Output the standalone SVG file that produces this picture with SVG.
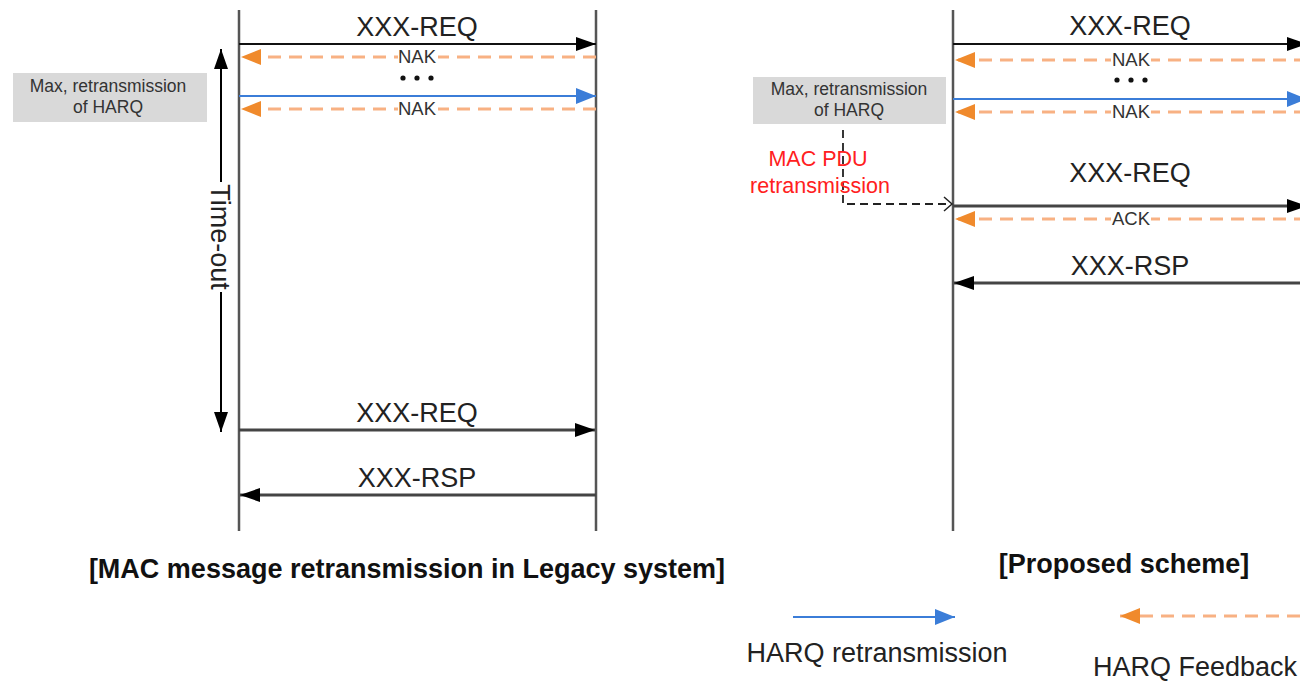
<svg xmlns="http://www.w3.org/2000/svg" width="1300" height="683" viewBox="0 0 1300 683">
<style>
text{font-family:"Liberation Sans",Arial,sans-serif;fill:#222}
.lbl{font-size:27px;text-anchor:middle}
.small{font-size:18.5px;text-anchor:middle;fill:#333}
.box{fill:#d9d9d9}
.boxt{font-size:17.5px;text-anchor:middle;fill:#333}
.cap{font-size:27px;font-weight:bold;text-anchor:middle;fill:#111}
.red{font-size:21.5px;text-anchor:middle;fill:#ff2020}
.life{stroke:#555;stroke-width:2.5;fill:none}
.msg{stroke:#111;stroke-width:2;fill:none;marker-end:url(#ah)}
.msg2{stroke:#444;stroke-width:2.8;fill:none;marker-end:url(#ah)}
.fb{stroke:#f8b183;stroke-width:3;stroke-dasharray:13 8;fill:none;marker-end:url(#ao)}
.rt{stroke:#3b7dd8;stroke-width:2;fill:none;marker-end:url(#ab)}
.lb{fill:#fff}
</style>
<defs>
<marker id="ah" markerUnits="userSpaceOnUse" markerWidth="20" markerHeight="14" refX="20" refY="7" orient="auto"><path d="M0,0 L20,7 L0,14 z" fill="#000"/></marker>
<marker id="ao" markerUnits="userSpaceOnUse" markerWidth="20" markerHeight="16" refX="20" refY="8" orient="auto"><path d="M0,0 L20,8 L0,16 z" fill="#f08a2c"/></marker>
<marker id="ab" markerUnits="userSpaceOnUse" markerWidth="20" markerHeight="16" refX="20" refY="8" orient="auto"><path d="M0,0 L20,8 L0,16 z" fill="#3b7dd8"/></marker>
<marker id="at" markerUnits="userSpaceOnUse" markerWidth="20" markerHeight="14" refX="20" refY="7" orient="auto"><path d="M0,0 L20,7 L0,14 z" fill="#000"/></marker>
</defs>

<g id="lifelines">
<line class="life" x1="239" y1="10" x2="239" y2="531"/>
<line class="life" x1="596" y1="10" x2="596" y2="531"/>
<line class="life" x1="953" y1="10" x2="953" y2="531"/>
</g>

<g id="box-left">
<rect class="box" x="13" y="73" width="194" height="49"/>
<text class="boxt" x="108" y="92">Max, retransmission</text>
<text class="boxt" x="108" y="113">of HARQ</text>
</g>

<g id="box-right">
<rect class="box" x="753" y="77" width="193" height="47"/>
<text class="boxt" x="849" y="95">Max, retransmission</text>
<text class="boxt" x="849" y="116">of HARQ</text>
</g>

<g id="timeout">
<line x1="221" y1="182" x2="221" y2="49" stroke="#000" stroke-width="2" marker-end="url(#at)"/>
<line x1="221" y1="292" x2="221" y2="432" stroke="#000" stroke-width="2" marker-end="url(#at)"/>
<text class="lbl" x="211" y="237" transform="rotate(90 211 237)">Time-out</text>
</g>

<g id="connectors">
<line class="msg" x1="239" y1="44" x2="596" y2="44"/>
<line class="fb" x1="596" y1="57" x2="241" y2="57"/>
<line class="rt" x1="239" y1="96" x2="596" y2="96"/>
<line class="fb" x1="596" y1="109" x2="241" y2="109"/>
<line class="msg2" x1="239" y1="430" x2="595" y2="430"/>
<line class="msg2" x1="596" y1="495" x2="240" y2="495"/>
<line class="msg" x1="953" y1="44" x2="1307" y2="44"/>
<line class="fb" x1="1307" y1="60" x2="955" y2="60"/>
<line class="rt" x1="953" y1="99" x2="1307" y2="99"/>
<line class="fb" x1="1307" y1="112" x2="955" y2="112"/>
<line class="msg2" x1="953" y1="206" x2="1307" y2="206"/>
<line class="fb" x1="1307" y1="219" x2="955" y2="219"/>
<line class="msg2" x1="1307" y1="283" x2="954" y2="283"/>
<path d="M843 130 V204 H951" fill="none" stroke="#222" stroke-width="1.8" stroke-dasharray="8 5"/>
<path d="M944 197 L952 204 L944 211" fill="none" stroke="#222" stroke-width="1.5"/>
<line class="rt" x1="793" y1="617" x2="955" y2="617"/>
<line class="fb" x1="1300" y1="616" x2="1120" y2="616"/>
</g>

<g id="labels">
<text class="lbl" x="417" y="36">XXX-REQ</text>
<rect class="lb" x="398" y="49" width="40" height="15"/>
<text class="small" x="417" y="63">NAK</text>
<circle cx="403" cy="78" r="2.6" fill="#111"/>
<circle cx="417" cy="78" r="2.6" fill="#111"/>
<circle cx="431" cy="78" r="2.6" fill="#111"/>
<rect class="lb" x="398" y="101" width="40" height="15"/>
<text class="small" x="417" y="115">NAK</text>
<text class="lbl" x="417" y="422">XXX-REQ</text>
<text class="lbl" x="417" y="487">XXX-RSP</text>

<text class="lbl" x="1130" y="35">XXX-REQ</text>
<rect class="lb" x="1111" y="52" width="40" height="15"/>
<text class="small" x="1131" y="66">NAK</text>
<circle cx="1117" cy="80" r="2.6" fill="#111"/>
<circle cx="1131" cy="80" r="2.6" fill="#111"/>
<circle cx="1145" cy="80" r="2.6" fill="#111"/>
<rect class="lb" x="1111" y="104" width="40" height="15"/>
<text class="small" x="1131" y="118">NAK</text>
<text class="lbl" x="1130" y="182">XXX-REQ</text>
<rect class="lb" x="1111" y="211" width="40" height="15"/>
<text class="small" x="1131" y="225">ACK</text>
<text class="lbl" x="1130" y="275">XXX-RSP</text>

<text class="red" x="818" y="166">MAC PDU</text>
<text class="red" x="820" y="193">retransmission</text>

<text class="cap" x="407" y="578">[MAC message retransmission in Legacy system]</text>
<text class="cap" x="1124" y="573">[Proposed scheme]</text>

<text class="lbl" x="877" y="662">HARQ retransmission</text>
<text class="lbl" x="1195" y="676">HARQ Feedback</text>
</g>
</svg>
